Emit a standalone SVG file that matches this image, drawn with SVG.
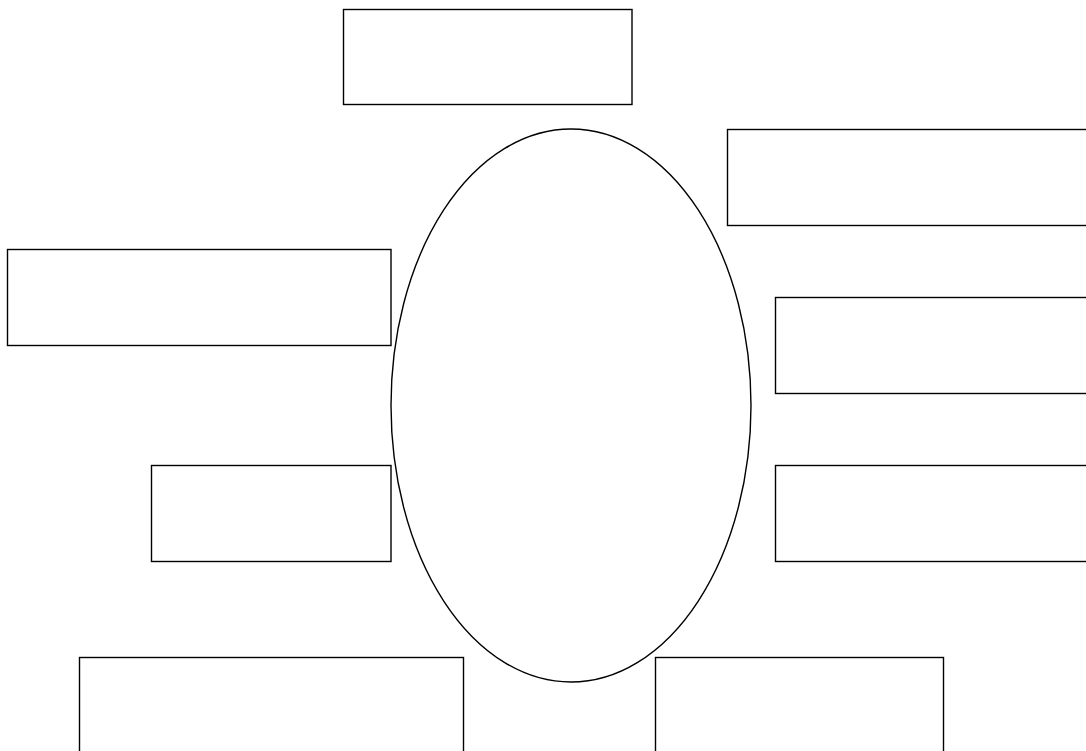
<svg xmlns="http://www.w3.org/2000/svg" width="1086" height="751" viewBox="0 0 1086 751">
<style>
.n{fill:#fff;stroke:#000;stroke-width:1.4}
</style>
<rect width="1086" height="751" fill="#fff"/>
<g id="center"><ellipse class="n" cx="571" cy="405.5" rx="180" ry="276.5"/></g>
<g id="top"><rect class="n" x="343.5" y="9.5" width="288.5" height="95"/></g>
<g id="right1"><rect class="n" x="727.5" y="129.5" width="380" height="96"/></g>
<g id="left1"><rect class="n" x="7.5" y="249.5" width="383.5" height="96"/></g>
<g id="right2"><rect class="n" x="775.5" y="297.5" width="330" height="96"/></g>
<g id="left2"><rect class="n" x="151.5" y="465.5" width="239.5" height="96"/></g>
<g id="right3"><rect class="n" x="775.5" y="465.5" width="330" height="96"/></g>
<g id="bottomleft"><rect class="n" x="79.5" y="657.5" width="384" height="120"/></g>
<g id="bottomright"><rect class="n" x="655.5" y="657.5" width="288" height="120"/></g>
<g id="connectors"></g>
</svg>
